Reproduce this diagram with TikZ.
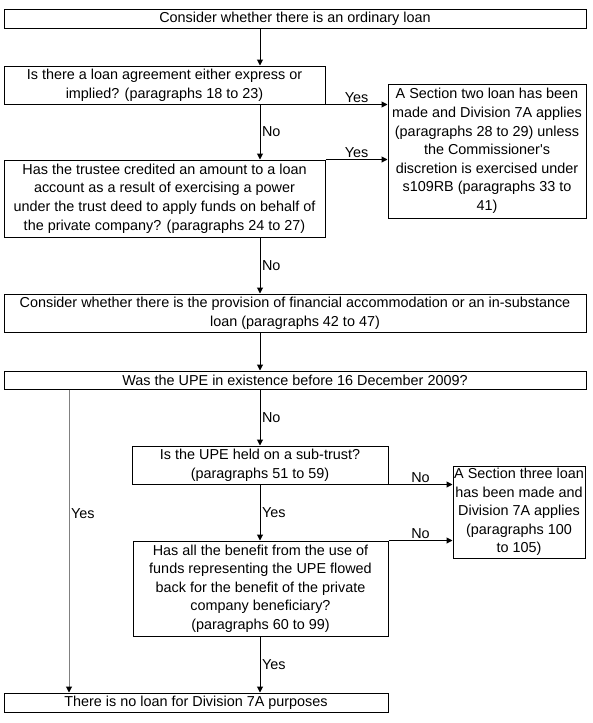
\documentclass[tikz,border=0pt]{standalone}
\usepackage{fontspec}
\setmainfont{Liberation Sans}
\usetikzlibrary{arrows.meta}
\tikzset{
  font={\fontsize{14.4pt}{18.6pt}\selectfont},
  box/.style={draw=black, line width=1pt, inner sep=0pt, align=center},
  arr/.style={draw=black, line width=1pt, -{Triangle[length=6pt,width=6pt]}},
  lbl/.style={inner sep=1.5pt}}

\begin{document}
\begin{tikzpicture}[x=1pt,y=-1pt]
\useasboundingbox (0,0) rectangle (592,723);
\coordinate (spine) at (260,0);
\coordinate (side) at (69,0);
\node[box, minimum width=582pt, minimum height=19pt] (start) at (295,18.5) {Consider whether there is an ordinary loan};
\node[box, minimum width=321pt, minimum height=38pt] (agree) at (164.5,85) {Is there a loan agreement either express or\\implied? (paragraphs 18 to 23)};
\node[box, minimum width=198pt, minimum height=134pt] (sec2) at (487,151) {A Section two loan has been\\made and Division 7A applies\\(paragraphs 28 to 29) unless\\the Commissioner\textquotesingle s\\discretion is exercised under\\s109RB (paragraphs 33 to\\41)};
\node[box, minimum width=321pt, minimum height=77pt] (credit) at (164.5,198.5) {Has the trustee credited an amount to a loan\\account as a result of exercising a power\\under the trust deed to apply funds on behalf of\\the private company? (paragraphs 24 to 27)};
\node[box, minimum width=582pt, minimum height=38pt] (accom) at (295,313) {Consider whether there is the provision of financial accommodation or an in-substance\\loan (paragraphs 42 to 47)};
\node[box, minimum width=582pt, minimum height=18pt] (upe) at (295,380) {Was the UPE in existence before 16 December 2009?};
\node[box, minimum width=256pt, minimum height=38pt] (subtrust) at (260,465) {Is the UPE held on a sub-trust?\\(paragraphs 51 to 59)};
\node[box, minimum width=132pt, minimum height=92pt] (sec3) at (519,512) {A Section three loan\\has been made and\\Division 7A applies\\(paragraphs 100\\to 105)};
\node[box, minimum width=255pt, minimum height=95pt] (benefit) at (260.5,588.5) {Has all the benefit from the use of\\funds representing the UPE flowed\\back for the benefit of the private\\company beneficiary?\\(paragraphs 60 to 99)};
\node[box, minimum width=384pt, minimum height=19pt] (noloan) at (196,702.5) {There is no loan for Division 7A purposes};
\draw[arr] (start.south -| spine) -- (agree.north -| spine);
\draw[arr] (agree.south east) -- (agree.south east -| sec2.west) node[midway, above, lbl] {Yes};
\draw[arr] (agree.south -| spine) -- (credit.north -| spine) node[midway, right, lbl] {No};
\draw[arr] (credit.north east) -- (credit.north east -| sec2.west) node[midway, above, lbl] {Yes};
\draw[arr] (credit.south -| spine) -- (accom.north -| spine) node[midway, right, lbl] {No};
\draw[arr] (accom.south -| spine) -- (upe.north -| spine);
\draw[arr] (upe.south -| spine) -- (subtrust.north -| spine) node[midway, right, lbl] {No};
\draw[arr, draw=gray, -{Triangle[length=6pt,width=6pt,color=black]}] (upe.south -| side) -- (noloan.north -| side) node[pos=0.41, right, lbl] {Yes};
\draw[arr] (subtrust.south east) -- (subtrust.south east -| sec3.west) node[midway, above, lbl] {No};
\draw[arr] (subtrust.south -| spine) -- (benefit.north -| spine) node[midway, right, lbl] {Yes};
\draw[arr] (benefit.north east) -- (benefit.north east -| sec3.west) node[midway, above, lbl] {No};
\draw[arr] (benefit.south -| spine) -- (noloan.north -| spine) node[midway, right, lbl] {Yes};
\end{tikzpicture}
\end{document}
